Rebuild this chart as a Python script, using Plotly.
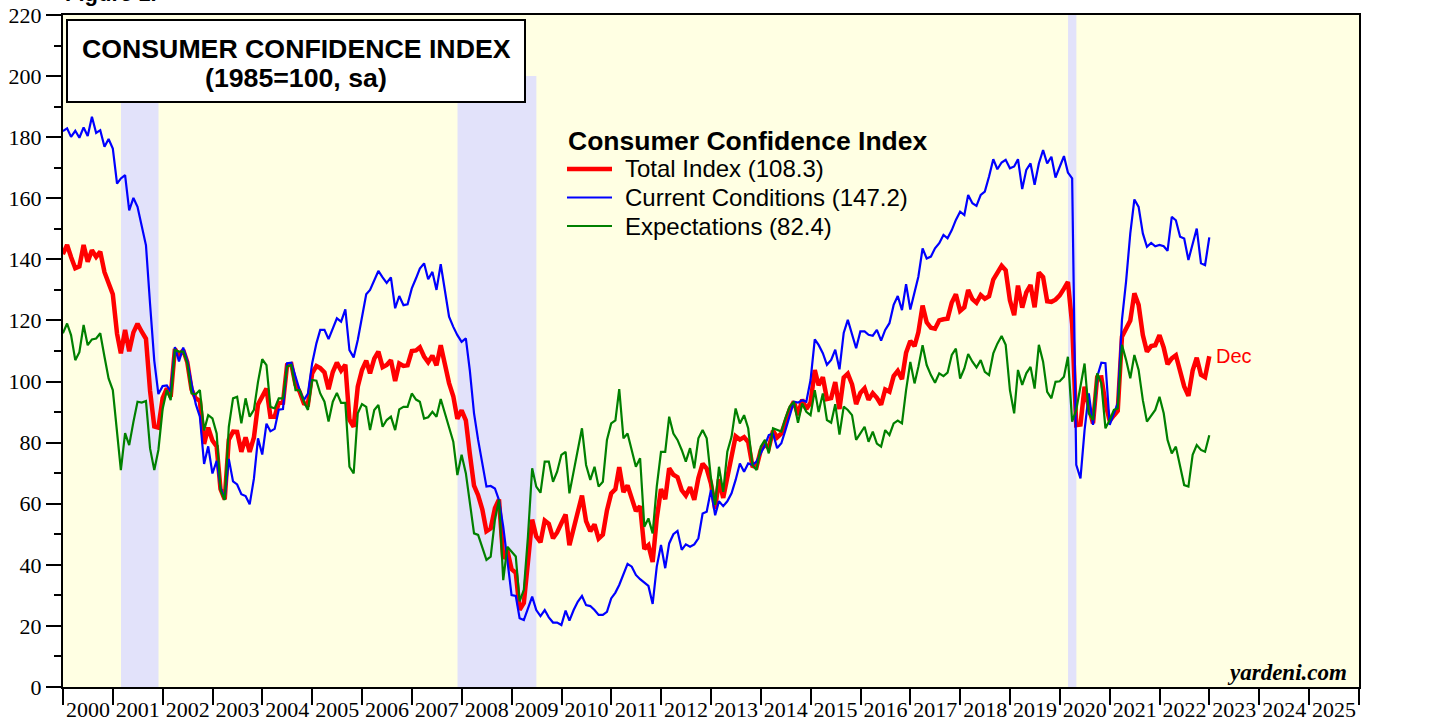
import pandas as pd
import plotly.graph_objects as go

# Monthly observations, Dec 1999 .. Dec 2022 (plotted at month end)
months = pd.date_range("1999-12-31", "2022-12-31", freq="ME")

total = [
    141.7,
    144.7, 140.8, 137.1, 137.7, 144.7, 139.2, 143.0, 140.8, 142.5, 135.8, 132.6, 128.6,  # 2000
    115.7, 109.2, 116.9, 109.9, 116.1, 118.9, 116.3, 114.0, 97.0, 85.3, 84.9, 94.6,      # 2001
    97.8, 95.0, 110.7, 108.5, 110.3, 106.3, 97.4, 94.5, 93.7, 79.6, 84.9, 80.7,          # 2002
    78.8, 64.8, 61.4, 81.0, 83.6, 83.5, 77.0, 81.7, 77.0, 81.7, 92.5, 94.8,              # 2003
    97.7, 88.5, 88.5, 93.0, 93.1, 105.4, 105.7, 99.0, 96.7, 92.9, 92.6, 102.7,           # 2004
    105.1, 104.4, 103.0, 97.5, 103.1, 106.2, 103.6, 105.5, 87.5, 85.2, 98.3, 103.8,      # 2005
    106.8, 102.7, 107.5, 109.8, 104.7, 105.4, 107.0, 100.2, 105.9, 105.1, 105.3, 110.0,  # 2006
    110.2, 111.2, 108.2, 106.3, 108.5, 105.3, 111.9, 105.6, 99.5, 95.2, 87.8, 90.6,      # 2007
    87.3, 76.4, 65.9, 62.8, 58.1, 51.0, 51.9, 58.5, 61.4, 42.0, 44.7, 38.6,              # 2008
    37.4, 25.3, 27.5, 40.8, 54.8, 49.3, 47.4, 54.5, 53.4, 48.7, 50.6, 53.6,              # 2009
    56.5, 46.4, 52.3, 57.7, 62.7, 54.3, 51.0, 53.2, 48.6, 49.9, 57.8, 63.4,              # 2010
    64.8, 72.0, 63.8, 66.0, 61.7, 57.6, 59.2, 45.2, 46.4, 40.9, 55.2, 64.8,              # 2011
    61.5, 71.6, 69.5, 68.7, 64.4, 62.7, 65.4, 61.3, 68.4, 73.1, 71.5, 66.7,              # 2012
    58.4, 68.0, 61.9, 69.0, 76.2, 82.1, 81.0, 81.8, 80.2, 72.4, 72.0, 77.5,              # 2013
    79.4, 78.3, 83.9, 81.7, 83.0, 86.4, 90.9, 93.4, 89.0, 94.1, 91.0, 93.1,              # 2014
    103.8, 98.8, 101.4, 94.3, 94.6, 99.8, 91.0, 101.3, 102.6, 99.1, 92.6, 96.3,          # 2015
    97.8, 94.0, 96.2, 94.7, 92.4, 97.4, 96.7, 101.8, 103.5, 100.8, 109.4, 113.3,         # 2016
    111.6, 116.1, 124.9, 119.4, 117.6, 117.3, 120.0, 120.4, 120.6, 125.9, 128.6, 123.1,  # 2017
    124.3, 130.0, 127.0, 125.8, 128.3, 127.1, 127.9, 133.4, 135.3, 137.9, 136.4, 126.6,  # 2018
    121.7, 131.4, 124.2, 129.2, 131.6, 124.3, 135.7, 134.2, 126.3, 126.1, 126.8, 128.2,  # 2019
    130.4, 132.6, 118.8, 85.7, 85.9, 98.3, 91.7, 86.3, 101.3, 101.4, 92.9, 87.1,         # 2020
    88.9, 90.4, 114.7, 117.5, 120.0, 128.9, 125.1, 115.2, 109.8, 111.6, 111.9, 115.2,    # 2021
    111.1, 105.7, 107.6, 108.6, 103.2, 98.4, 95.3, 103.6, 107.8, 102.2, 101.4, 108.3,    # 2022
]

current = [
    182.0,
    182.9, 180.1, 182.1, 179.8, 183.2, 180.4, 186.7, 181.4, 182.3, 176.9, 179.4, 176.3,  # 2000
    164.8, 166.5, 167.6, 156.0, 160.1, 157.2, 151.1, 144.6, 125.4, 106.8, 95.9, 98.5,    # 2001
    98.7, 96.7, 111.3, 106.6, 111.1, 106.8, 99.4, 92.6, 88.5, 73.0, 78.8, 69.9,          # 2002
    74.0, 65.3, 61.7, 74.7, 67.3, 66.3, 63.1, 62.5, 59.8, 68.2, 81.4, 76.1,              # 2003
    86.2, 83.7, 84.5, 90.8, 91.0, 106.0, 106.2, 101.6, 97.2, 93.9, 96.1, 106.0,          # 2004
    112.5, 116.9, 116.9, 113.9, 117.4, 120.7, 119.6, 123.6, 110.3, 107.9, 113.6, 121.2,  # 2005
    128.6, 130.0, 133.2, 136.2, 134.1, 132.3, 134.1, 124.0, 128.0, 125.0, 125.3, 130.5,  # 2006
    133.8, 137.0, 138.7, 133.5, 135.9, 130.0, 138.4, 130.0, 121.2, 117.9, 115.2, 113.0,  # 2007
    114.1, 103.7, 89.6, 80.9, 73.2, 65.6, 65.8, 65.0, 61.2, 52.5, 41.6, 30.1,            # 2008
    29.8, 22.5, 21.9, 25.8, 29.6, 25.2, 23.2, 25.2, 22.8, 21.1, 21.1, 20.3,              # 2009
    25.0, 21.7, 25.2, 27.9, 29.8, 26.8, 26.5, 25.2, 23.6, 23.6, 24.6, 29.0,              # 2010
    30.9, 33.4, 36.7, 40.3, 39.4, 36.7, 35.3, 34.1, 33.1, 27.2, 39.4, 46.5,              # 2011
    38.9, 47.0, 50.0, 51.1, 44.9, 46.7, 45.9, 46.7, 48.7, 56.8, 57.4, 64.5,              # 2012
    56.2, 60.8, 59.2, 60.8, 63.4, 67.8, 73.2, 70.5, 73.2, 72.7, 73.8, 76.5,              # 2013
    79.2, 82.5, 83.0, 78.2, 79.8, 84.1, 89.0, 93.4, 93.1, 93.9, 93.4, 100.5,             # 2014
    113.8, 112.0, 109.3, 105.5, 107.1, 110.4, 104.0, 115.9, 120.2, 115.3, 110.9, 116.4,  # 2015
    116.4, 115.3, 115.0, 116.9, 113.4, 116.9, 119.1, 125.1, 128.0, 123.4, 131.9, 123.6,  # 2016
    128.9, 134.3, 143.6, 140.3, 140.9, 143.6, 145.3, 148.0, 146.9, 149.6, 152.9, 155.6,  # 2017
    154.5, 161.1, 158.4, 157.5, 161.1, 162.2, 167.1, 172.8, 169.5, 171.7, 172.6, 169.8,  # 2018
    170.4, 172.8, 163.0, 169.3, 171.4, 164.4, 171.4, 175.8, 171.4, 173.6, 166.8, 170.3,  # 2019
    173.8, 168.4, 166.5, 72.7, 68.3, 84.1, 96.1, 85.8, 101.5, 106.2, 106.0, 85.8,        # 2020
    89.6, 92.9, 120.2, 132.7, 148.5, 159.6, 157.2, 148.5, 144.1, 145.4, 144.3, 144.7,    # 2021
    144.3, 142.8, 153.9, 152.8, 147.4, 146.8, 139.8, 144.7, 150.1, 138.7, 138.1, 147.2,  # 2022
]

expectations = [
    115.8,
    119.0, 115.2, 107.0, 109.6, 118.5, 111.9, 113.8, 114.1, 115.8, 108.1, 101.0, 97.2,   # 2000
    83.0, 71.0, 83.1, 79.2, 86.8, 93.4, 93.1, 93.6, 78.1, 71.0, 77.6, 91.0,              # 2001
    97.2, 93.9, 110.3, 109.8, 109.8, 106.0, 96.1, 95.8, 97.2, 84.0, 89.0, 87.9,          # 2002
    83.0, 64.5, 61.2, 85.2, 94.5, 95.0, 86.3, 94.5, 88.5, 90.7, 99.9, 107.3,             # 2003
    105.4, 91.7, 91.2, 94.5, 94.5, 104.9, 105.4, 97.2, 97.2, 93.4, 90.7, 100.5,          # 2004
    100.3, 96.1, 93.4, 86.9, 93.4, 96.3, 93.0, 93.0, 72.1, 69.9, 89.6, 92.6,             # 2005
    91.7, 84.1, 90.7, 92.3, 85.2, 87.4, 88.5, 84.1, 90.9, 91.7, 91.7, 96.1,              # 2006
    94.1, 93.4, 87.9, 88.3, 90.1, 88.5, 94.3, 89.6, 85.2, 80.3, 69.4, 76.0,              # 2007
    70.0, 60.2, 50.3, 49.8, 45.9, 41.6, 42.7, 54.7, 61.4, 35.0, 45.9, 44.3,              # 2008
    42.7, 28.0, 31.8, 49.2, 71.6, 65.6, 63.6, 73.8, 73.8, 67.2, 70.5, 76.0,              # 2009
    77.0, 63.4, 70.5, 77.0, 84.7, 72.7, 67.8, 72.1, 65.6, 67.2, 80.9, 86.3,              # 2010
    87.3, 97.5, 81.4, 83.0, 77.6, 72.1, 74.9, 52.5, 55.2, 50.3, 65.6, 77.0,              # 2011
    77.0, 88.5, 83.0, 80.9, 77.6, 73.8, 78.2, 71.6, 81.4, 84.1, 81.4, 68.5,              # 2012
    59.6, 72.1, 63.9, 77.0, 81.9, 91.2, 86.3, 89.0, 84.7, 72.7, 71.0, 78.7,              # 2013
    80.9, 76.5, 84.7, 84.1, 83.6, 88.0, 91.8, 93.4, 86.5, 92.8, 90.1, 89.0,              # 2014
    97.2, 90.0, 96.1, 87.4, 86.5, 92.6, 82.6, 91.8, 90.7, 89.0, 80.9, 83.0,              # 2015
    85.2, 80.3, 83.6, 79.7, 78.7, 84.1, 82.5, 86.3, 87.2, 86.3, 97.2, 106.4,             # 2016
    99.4, 104.8, 111.9, 105.4, 102.1, 99.6, 102.7, 101.8, 102.9, 108.7, 110.8, 101.0,    # 2017
    104.3, 109.0, 106.5, 104.6, 107.0, 103.2, 102.1, 109.2, 112.4, 114.9, 112.0, 97.2,   # 2018
    89.6, 103.8, 98.9, 102.7, 104.8, 97.7, 112.0, 106.5, 96.6, 94.5, 99.9, 100.1,        # 2019
    101.6, 108.1, 86.9, 90.7, 98.3, 105.9, 89.6, 87.4, 102.7, 99.4, 84.7, 87.4,          # 2020
    90.7, 91.2, 112.0, 107.1, 101.1, 108.7, 103.8, 93.9, 86.9, 89.0, 90.7, 95.0,         # 2021
    89.6, 80.9, 76.5, 78.7, 72.1, 66.1, 65.6, 76.0, 79.2, 77.6, 77.0, 82.4,              # 2022
]

# Recession periods (start, end, top of shading)
recessions = [
    ("2001-03-01", "2001-12-01", 200),
    ("2007-12-01", "2009-07-01", 200),
    ("2020-03-01", "2020-05-01", 220),
]

y_range = [0, 220]
x_range = ["2000-01-01", "2026-01-01"]

SERIF = "Liberation Serif, Times New Roman, serif"
SANS = "Liberation Sans, Arial, sans-serif"

# plot-area geometry (pixels) used to place decorations
L, T, W, H = 63, 15, 1296, 672


def px(x):
    return (x - L) / W


def py(y):
    return 1 - (y - T) / H


series = [
    ("Total Index", total, "#ff0000", 4.5),
    ("Current Conditions", current, "#0000ff", 2.2),
    ("Expectations", expectations, "#008000", 2.2),
]

fig = go.Figure()
for name, vals, color, width in series:
    fig.add_trace(go.Scatter(
        x=months, y=vals, mode="lines",
        name=f"{name} ({vals[-1]:.1f})",
        line=dict(color=color, width=width),
        showlegend=False,
    ))

for start, end, top in recessions:
    fig.add_shape(type="rect", xref="x", yref="y", x0=start, x1=end, y0=0, y1=top,
                  fillcolor="#e2e2fa", line=dict(width=0), layer="below")

axis_common = dict(automargin=False, showgrid=False, zeroline=False)

fig.update_layout(
    width=1429, height=721,
    margin=dict(l=L, r=1429 - L - W, t=T, b=721 - T - H, pad=0, autoexpand=False),
    paper_bgcolor="white",
    plot_bgcolor="#ffffe3",
    showlegend=False,
    xaxis=dict(
        type="date", range=x_range, dtick="M12", tick0="2000-01-01",
        ticklabelmode="period", tickformat="%Y",
        ticks="outside", ticklen=16, tickwidth=2, tickcolor="black",
        ticklabelstandoff=-14,
        showline=True, linecolor="black", linewidth=2, mirror=True,
        tickfont=dict(family=SERIF, size=22, color="black"),
        **axis_common,
    ),
    yaxis=dict(
        range=y_range, dtick=20, tick0=0,
        ticks="outside", ticklen=15, tickwidth=1.5, tickcolor="black",
        minor=dict(dtick=10, ticks="outside", ticklen=7, tickwidth=1.5, tickcolor="black"),
        showline=True, linecolor="black", linewidth=2, mirror=True,
        tickfont=dict(family=SERIF, size=22, color="black"),
        **axis_common,
    ),
    yaxis2=dict(
        overlaying="y", side="right", range=y_range, dtick=20, tick0=0,
        ticks="outside", ticklen=15, tickwidth=1.5, tickcolor="black",
        minor=dict(dtick=10, ticks="outside", ticklen=7, tickwidth=1.5, tickcolor="black"),
        showline=False,
        tickfont=dict(family=SERIF, size=22, color="black"),
        **axis_common,
    ),
    yaxis3=dict(
        overlaying="y", side="left", range=y_range, dtick=10, tick0=0,
        ticks="inside", ticklen=4, tickwidth=1.5, tickcolor="black",
        showticklabels=False, showline=False,
        **axis_common,
    ),
    yaxis4=dict(
        overlaying="y", side="right", range=y_range, dtick=10, tick0=0,
        ticks="inside", ticklen=4, tickwidth=1.5, tickcolor="black",
        showticklabels=False, showline=False,
        **axis_common,
    ),
)

# Title box
fig.add_shape(type="rect", xref="paper", yref="paper",
              x0=px(67), x1=px(525), y0=py(102), y1=py(20),
              fillcolor="white", line=dict(color="black", width=2), layer="above")
fig.add_annotation(xref="paper", yref="paper", x=px(296), y=py(49),
                   xanchor="center", yanchor="middle", showarrow=False,
                   text="<b>CONSUMER CONFIDENCE INDEX</b>",
                   font=dict(family=SANS, size=26.7, color="black"))
fig.add_annotation(xref="paper", yref="paper", x=px(296), y=py(78),
                   xanchor="center", yanchor="middle", showarrow=False,
                   text="<b>(1985=100, sa)</b>",
                   font=dict(family=SANS, size=26.7, color="black"))

# Legend (drawn manually to match the original spacing)
fig.add_annotation(xref="paper", yref="paper", x=px(566), y=py(141),
                   xanchor="left", yanchor="middle", showarrow=False,
                   text="<b>Consumer Confidence Index</b>",
                   font=dict(family=SANS, size=26.5, color="black"))
legend_rows = [169, 197.5, 226]
for (name, vals, color, width), row in zip(series, legend_rows):
    fig.add_shape(type="line", xref="paper", yref="paper",
                  x0=px(567), x1=px(612), y0=py(row), y1=py(row),
                  line=dict(color=color, width=width), layer="above")
    fig.add_annotation(xref="paper", yref="paper", x=px(623), y=py(row),
                       xanchor="left", yanchor="middle", showarrow=False,
                       text=f"{name} ({vals[-1]:.1f})",
                       font=dict(family=SANS, size=24, color="black"))

# Partially cut figure label at the very top (only its descenders show)
fig.add_annotation(
    xref="paper", yref="paper", x=0.0, y=1.011, xanchor="left", yanchor="bottom",
    text="<b>Figure 1.</b>", showarrow=False,
    font=dict(family=SANS, size=22, color="black"),
)

# Last-month label
fig.add_annotation(
    x=months[-1], y=total[-1], xref="x", yref="y", xanchor="left", yanchor="middle",
    xshift=5, text="Dec", showarrow=False,
    font=dict(family=SANS, size=20, color="#ff0000"),
)

# Source
fig.add_annotation(
    xref="paper", yref="paper", x=px(1349), y=py(672), xanchor="right", yanchor="middle",
    text="<b><i>yardeni.com</i></b>", showarrow=False,
    font=dict(family=SERIF, size=23, color="black"),
)

fig.write_html(
    "out.html",
    config={"displayModeBar": False},
    post_script="document.body.style.margin='0';",
)
